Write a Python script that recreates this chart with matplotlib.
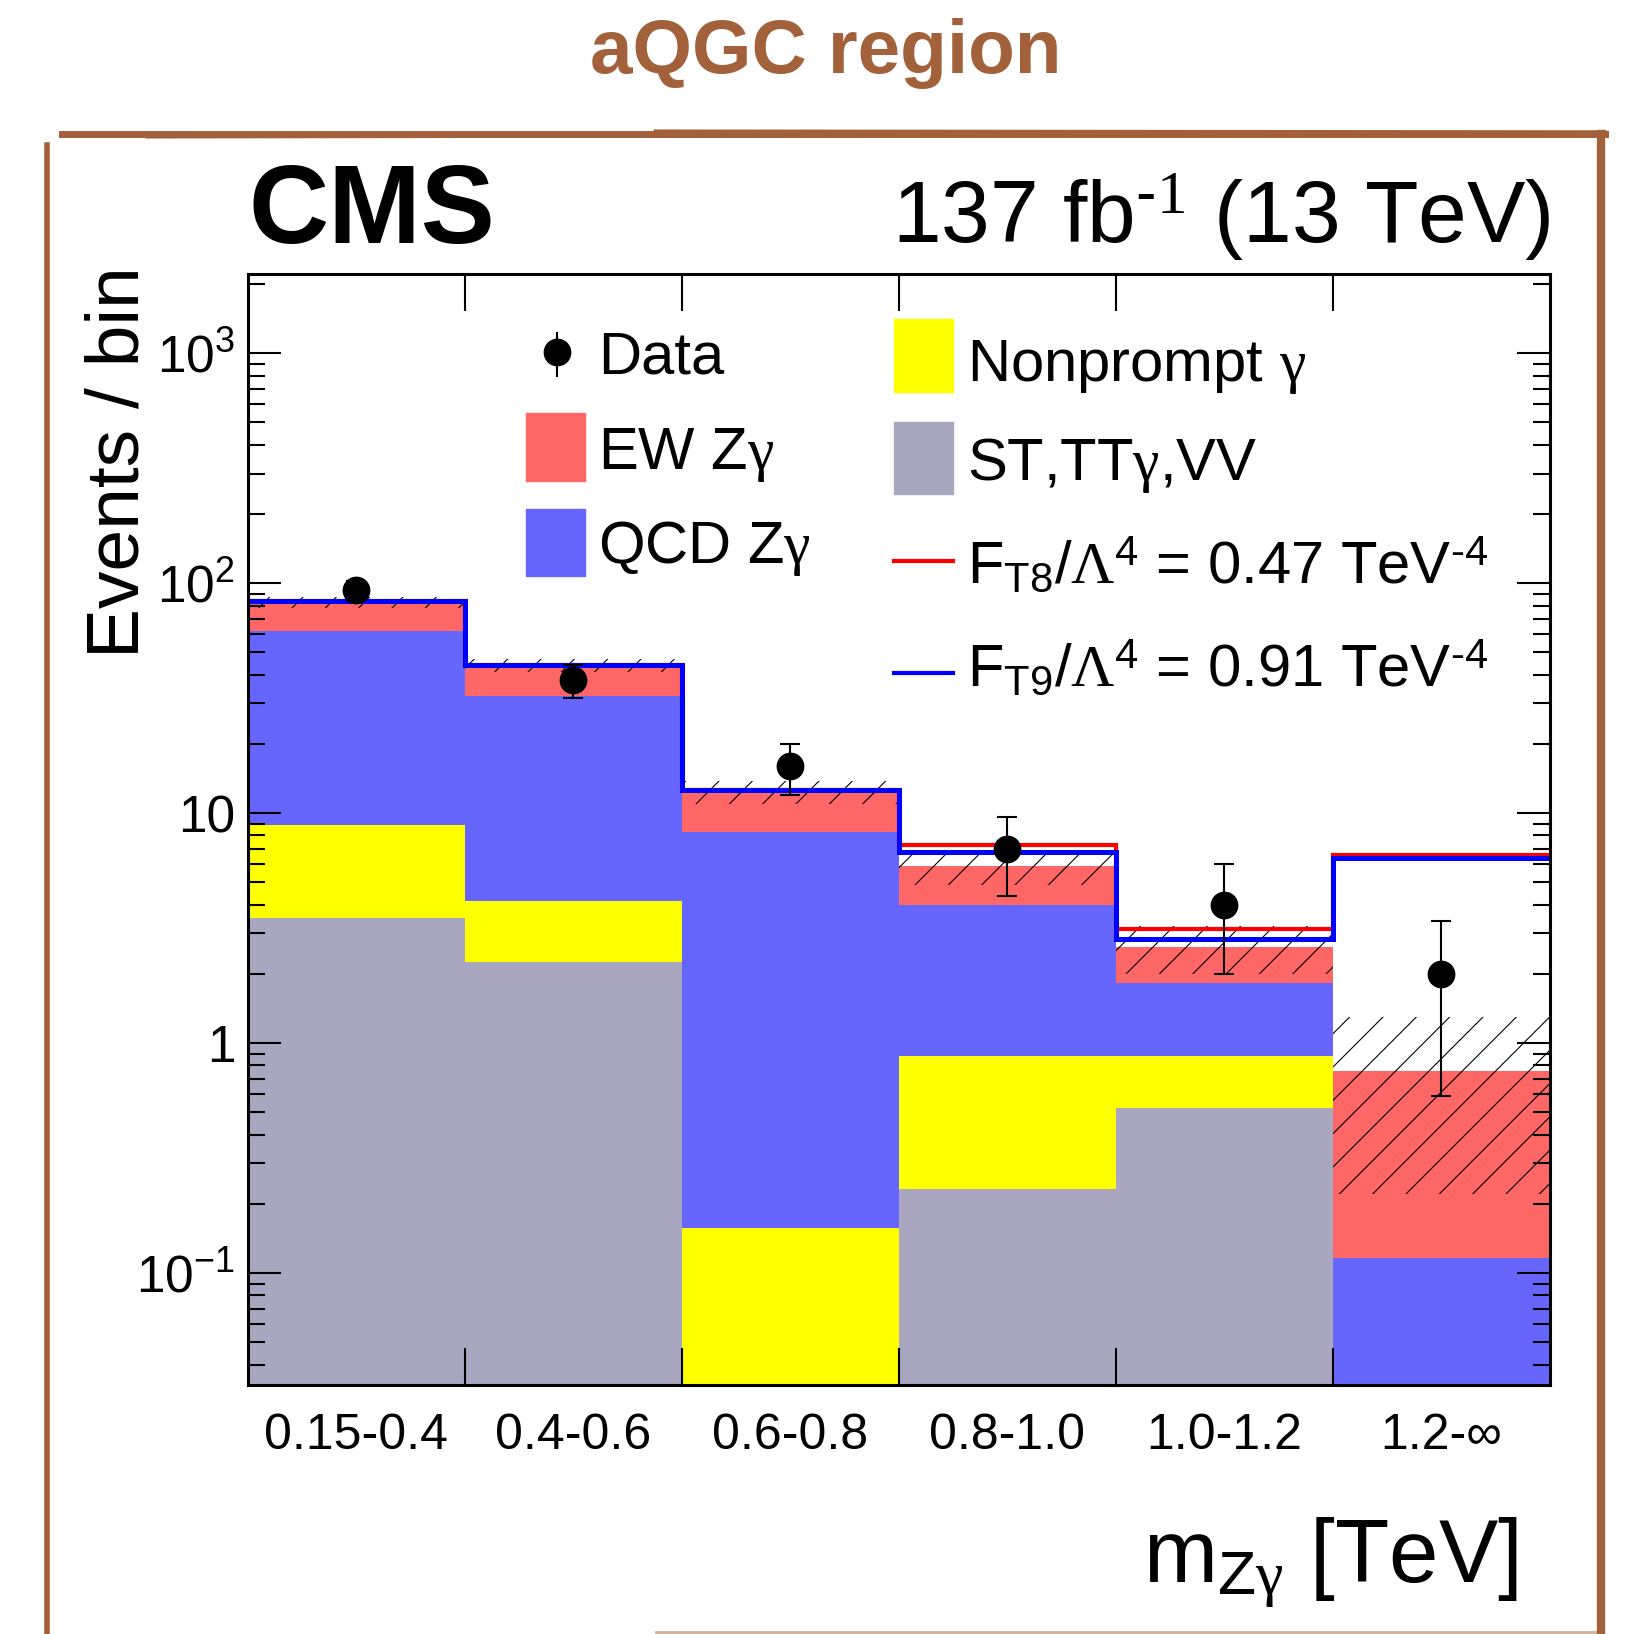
import numpy as np
import matplotlib
matplotlib.use("Agg")
import matplotlib.pyplot as plt
from matplotlib.patches import Rectangle
from matplotlib.lines import Line2D
from matplotlib.ticker import LogLocator, NullFormatter

plt.rcParams['font.family'] = ['Liberation Sans', 'DejaVu Sans']
plt.rcParams['mathtext.fontset'] = 'custom'
plt.rcParams['mathtext.rm'] = 'Liberation Serif'
plt.rcParams['mathtext.it'] = 'Liberation Serif:italic'
plt.rcParams['mathtext.bf'] = 'Liberation Sans:bold'
plt.rcParams['hatch.linewidth'] = 0.8

# m_Zgamma bins
bin_labels = ['0.15-0.4', '0.4-0.6', '0.6-0.8', '0.8-1.0', '1.0-1.2', '1.2-∞']

# stacked backgrounds (events / bin)
st_ttg_vv = [3.5, 2.26, 0.0, 0.233, 0.52, 0.0]
nonprompt = [5.4, 1.9, 0.157, 0.65, 0.36, 0.0]
qcd_zg = [53.0, 28.1, 8.12, 3.1, 0.94, 0.116]
ew_zg = [20.1, 10.5, 4.0, 1.89, 0.8, 0.644]

# total uncertainty band
unc_lo = [77.7, 41.0, 11.0, 4.86, 1.99, 0.22]
unc_hi = [87.5, 46.8, 13.8, 6.85, 3.24, 1.30]

# aQGC hypotheses
ft8 = [83.5, 44.2, 12.6, 7.25, 3.12, 6.58]
ft9 = [83.5, 44.2, 12.6, 6.75, 2.84, 6.36]

# data
data = [93, 38, 16, 7, 4, 2]
data_err = [9.6, 6.2, 4.0, 2.65, 2.0, 1.41]

edges = np.arange(len(bin_labels) + 1)
centers = edges[:-1] + 0.5

fig = plt.figure(figsize=(16.39, 16.34), dpi=100)
ax = fig.add_axes([0.1511, 0.1524, 0.7946, 0.68])

floor = 1e-4
stack = [st_ttg_vv, nonprompt, qcd_zg, ew_zg]
colors = ['#a9a7bf', '#ffff00', '#6666ff', '#ff6666']
bottom = np.zeros(len(bin_labels))
for vals, c in zip(stack, colors):
    top = bottom + np.array(vals)
    ax.stairs(np.maximum(top, floor), edges, baseline=np.maximum(bottom, floor),
              fill=True, color=c, lw=0)
    bottom = top

ax.stairs(unc_hi, edges, baseline=unc_lo, fill=True, facecolor='none',
          edgecolor='black', hatch='/', lw=0)

ax.stairs(ft8, edges, baseline=None, color='red', lw=3.0)
ax.stairs(ft9, edges, baseline=None, color='blue', lw=3.6)

ax.errorbar(centers, data, yerr=data_err, fmt='o', color='black', ms=19,
            elinewidth=1.5, capsize=7, capthick=1.5, zorder=5)

ax.set_yscale('log')
ax.set_xlim(0, 6)
ax.set_ylim(0.0326, 2215)
ax.set_yticks([0.1, 1, 10, 100, 1000],
              [r'$\mathregular{10^{-1}}$', '1', '10',
               r'$\mathregular{10^{2}}$', r'$\mathregular{10^{3}}$'])
ax.yaxis.set_minor_locator(LogLocator(base=10, subs=np.arange(2, 10), numticks=20))
ax.yaxis.set_minor_formatter(NullFormatter())
ax.set_xticks(centers, bin_labels)
ax.set_xticks(edges[1:-1], minor=True)

ax.tick_params(axis='x', which='major', length=0, pad=20, labelsize=36)
ax.tick_params(axis='x', which='minor', length=26.6, width=1.5, direction='in',
               top=True, bottom=True)
ax.tick_params(axis='y', which='major', length=24, width=1.5, direction='in',
               left=True, right=True, labelsize=37, pad=9)
ax.tick_params(axis='y', which='minor', length=12, width=1.5, direction='in',
               left=True, right=True)
for s in ax.spines.values():
    s.set_linewidth(2.2)

ax.text(-0.099, 1.0066, 'Events / bin', rotation=90, ha='center', va='top',
        fontsize=54, transform=ax.transAxes)
ax.text(0.9751, -0.1773, r'm$_{\mathregular{Z}\mathrm{\gamma}}$ [TeV]', ha='right',
        va='baseline', fontsize=64, transform=ax.transAxes)
ax.text(0.0008, 1.0282, 'CMS', fontweight='bold', fontsize=80, ha='left',
        va='baseline', transform=ax.transAxes)
ax.text(1.0, 1.0282, '137 fb$^{\\mathregular{\u2010}1}$ (13 TeV)', ha='right',
        va='baseline', fontsize=63, transform=ax.transAxes)

# legend, drawn by hand
tr = ax.transAxes
fs = 43
g = r'$\mathrm{\gamma}$'
ax.plot([0.2376], [0.9294], 'o', color='black', ms=19, transform=tr, clip_on=False)
ax.plot([0.2376, 0.2376], [0.908, 0.947], color='black', lw=1.5, transform=tr)
ax.text(0.2689, 0.9106, 'Data', fontsize=fs, transform=tr, va='baseline')
ax.add_patch(Rectangle((0.2135, 0.8137), 0.0457, 0.0612, color='#ff6666', transform=tr))
ax.text(0.2689, 0.824, 'EW Z' + g, fontsize=fs, transform=tr, va='baseline')
ax.add_patch(Rectangle((0.2135, 0.7281), 0.0457, 0.0602, color='#6666ff', transform=tr))
ax.text(0.2689, 0.7394, 'QCD Z' + g, fontsize=fs, transform=tr, va='baseline')
ax.add_patch(Rectangle((0.496, 0.8937), 0.0457, 0.0659, color='#ffff00', transform=tr))
ax.text(0.5522, 0.904, 'Nonprompt ' + g, fontsize=fs, transform=tr, va='baseline')
ax.add_patch(Rectangle((0.496, 0.8015), 0.0457, 0.0649, color='#a9a7bf', transform=tr))
ax.text(0.5522, 0.8147, 'ST,TT' + g + ',VV', fontsize=fs, transform=tr, va='baseline')
ax.plot([0.496, 0.5417], [0.7413, 0.7413], color='red', lw=3.0, transform=tr)
ax.text(0.5522, 0.7215,
        'F$_{\\mathregular{T8}}$/$\\mathrm{\\Lambda}^{\\mathregular{4}}$ = 0.47 TeV$^{\\mathregular{\u20104}}$',
        fontsize=fs, transform=tr, va='baseline')
ax.plot([0.496, 0.5417], [0.6406, 0.6406], color='blue', lw=3.0, transform=tr)
ax.text(0.5522, 0.6284,
        'F$_{\\mathregular{T9}}$/$\\mathrm{\\Lambda}^{\\mathregular{4}}$ = 0.91 TeV$^{\\mathregular{\u20104}}$',
        fontsize=fs, transform=tr, va='baseline')

# page decoration
brown = '#a2613a'
fig.text(0.504, 0.9553, 'aQGC region', ha='center', va='baseline', fontsize=55,
         fontweight='bold', color=brown)
ft = fig.transFigure
for xs, ys, lw, a in [([0.038, 0.979], [0.918, 0.918], 5, 1.0),
                      ([0.09, 0.70], [0.9165, 0.9175], 3, 1.0),
                      ([0.40, 0.979], [0.9195, 0.919], 3, 1.0),
                      ([0.977, 0.977], [0.918, 0.0], 6, 1.0),
                      ([0.0285, 0.0285], [0.911, 0.0], 4, 1.0),
                      ([0.40, 0.975], [0.0015, 0.0015], 2, 0.5)]:
    fig.add_artist(Line2D(xs, ys, color=brown, lw=lw, alpha=a, transform=ft))

fig.savefig('out.png', dpi=100)
